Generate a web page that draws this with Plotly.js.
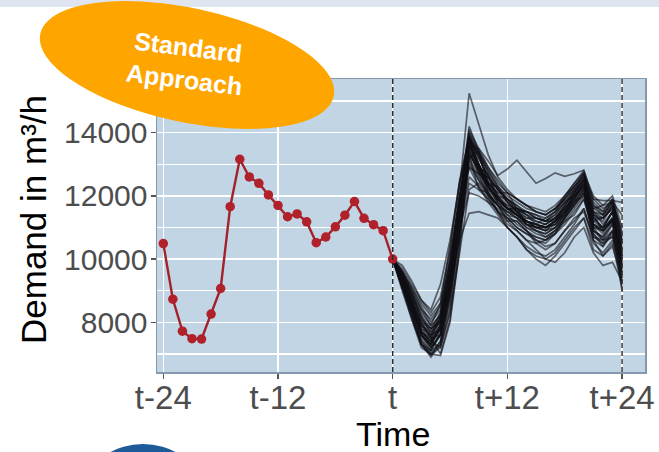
<!DOCTYPE html>
<html>
<head>
<meta charset="utf-8">
<script src="https://cdn.plot.ly/plotly-3.0.1.min.js"></script>
<style>html,body{margin:0;padding:0;background:#fff;}#chart{width:659px;height:452px;}</style>
</head>
<body>
<div id="chart"></div>
<script>
// ---- data ----
const pastHours = [-24,-23,-22,-21,-20,-19,-18,-17,-16,-15,-14,-13,-12,-11,-10,-9,-8,-7,-6,-5,-4,-3,-2,-1,0];
const pastDemand = [10490,8730,7720,7480,7470,8260,9070,11660,13160,12600,12400,12030,11700,11340,11430,11180,10520,10700,11020,11390,11820,11290,11090,10900,10000];
const futureHours = [0,1,2,3,4,5,6,7,8,9,10,11,12,13,14,15,16,17,18,19,20,21,22,23,24];
const tickVals = [-24,-12,0,12,24];
const tickText = ['t-24','t-12','t','t+12','t+24'];
const forecast01 = [10000,9400,8600,7700,7300,7800,9600,12200,15250,14300,13300,12600,12200,11900,11700,11500,11400,11600,11900,12300,12600,11500,11300,11600,10300];
const forecast02 = [10000,9500,8700,7900,7500,8100,9700,11600,13600,13500,13100,12650,12850,13130,12750,12400,12550,12730,12620,12700,12820,11900,11600,11800,10900];
const forecast03 = [10000,9600,9000,8400,7900,8600,10400,12400,13900,13000,12300,11900,11600,11400,11200,11000,10900,11200,11700,12200,12700,11300,11000,11500,10100];
const forecast04 = [10000,9100,8200,7300,7000,6950,8000,10300,13700,12800,12300,11900,11600,11500,11200,11100,11000,11200,11600,12000,12400,11100,10800,11300,9700];
const forecast05 = [10000,9500,8900,8200,7600,7800,9300,11900,14000,13400,12900,12500,12100,11900,11700,11500,11400,11600,12000,12400,12750,11700,11400,11800,10500];
const forecast06 = [10000,9100,8200,7300,6900,7300,8800,10900,13200,12600,12100,11700,11400,11300,11000,10900,10800,11000,11400,11800,12200,10900,10700,11200,9400];
const forecast07 = [10000,9700,9200,8700,8300,8800,10300,12500,13800,13200,12600,12200,11900,11600,11500,11300,11200,11300,11700,12100,12500,11700,11500,11900,10600];
const forecast08 = [10000,9200,8300,7400,7100,7300,8600,11000,13400,12700,12000,11700,11500,11400,11200,11000,11000,11100,11500,11900,12300,11000,10900,11300,9900];
const forecast09 = [10000,9400,8600,7800,7600,8200,9600,11000,12100,12000,11800,11600,11300,11000,10800,10700,10600,10800,11100,11500,11900,10800,10500,10900,9500];
const forecast10 = [10000,9300,8500,7700,7400,8000,9200,10600,11450,11500,11400,11300,11000,10700,10300,10100,10000,10200,10600,11000,11300,10300,10100,10500,9100];
const forecast11 = [10000,9000,8100,7300,7100,7700,9300,11400,13600,13000,12400,12000,11600,11400,11100,10900,10700,10900,11300,11700,12100,10600,10400,10900,9000];
const forecast12 = [10000,9500,8800,8000,7500,7600,9000,11800,14100,13500,12900,12400,12100,11900,11700,11600,11500,11700,12000,12400,12800,11800,11500,11900,10700];
const forecast13 = [10000,9500,8900,8300,7900,8200,9400,11300,13300,12900,12100,11500,11300,11200,10900,10600,10500,10800,11300,11700,12100,11000,11000,11500,10200];
const forecast14 = [10000,9500,8700,7900,7600,8100,9800,11900,13700,13000,12300,11900,11700,11600,11500,11400,11300,11500,11900,12200,12500,11900,11850,11850,11800];
const forecast15 = [10000,9200,8300,7400,7000,7400,8900,11000,13500,12900,12400,12100,11800,11500,11300,11200,11100,11300,11700,12100,12500,11300,11000,11500,9800];
const forecast16 = [10000,9600,9100,8500,8000,8400,9900,11900,13900,13200,12600,12200,11800,11500,11200,11000,10900,11100,11500,11900,12400,11400,11200,11700,10500];
const forecast17 = [10000,9300,8500,7600,7300,7800,9300,11400,12900,12300,11800,11400,11000,10700,10300,10000,9800,10100,10500,10900,11300,10500,10200,10600,9600];
const forecast18 = [10000,9300,8400,7600,7300,7900,9300,11200,12600,12300,11900,11500,11200,10900,10600,10300,10000,9900,10200,10700,11000,10200,9800,9900,9300];
const forecast19 = [10000,9600,9000,8400,8100,8500,9900,11900,13800,12900,12200,12000,11900,11500,11100,11000,11100,11300,11600,11900,12400,11400,10900,11200,10300];
const forecast20 = [10000,9100,8100,7200,7000,7200,8400,10700,13400,12800,12300,11900,11600,11400,11100,11000,10900,11000,11300,11800,12200,11100,10900,11200,9600];
const forecast21 = [10000,9800,9300,8700,8400,9200,10600,12400,13600,13000,12500,12000,11700,11400,11200,11100,11000,11200,11600,12000,12300,11500,11400,11800,10800];
const forecast22 = [10000,9300,8500,7600,7200,7600,9100,11300,13600,12900,12300,11800,11500,11300,11000,10800,10700,10900,11300,11700,12100,10800,10400,10800,9300];
const forecast23 = [10000,9400,8600,7700,7400,7900,9400,11600,13900,13300,12800,12300,12000,11800,11600,11500,11400,11600,11900,12300,12700,12000,11700,12000,11000];
const forecast24 = [10000,9500,8900,8200,7800,8300,9600,11200,13300,12200,12100,11700,11200,11200,10900,10500,10600,10900,11200,11400,11900,10900,10600,10700,9900];
const forecast25 = [10000,9200,8300,7300,6950,7400,8800,10800,13000,12500,12000,11700,11500,11300,11100,10900,10800,11000,11400,11800,12200,11200,11000,11300,10000];
const forecast26 = [10000,9600,9100,8600,8200,8600,10100,11900,13700,13300,12400,12100,12100,11600,11300,11300,11200,11200,11500,12100,12500,11200,11300,11600,10100];
const forecast27 = [10000,9300,8500,7600,7300,7800,9300,11500,13800,13000,12400,11900,11600,11400,11200,11100,11000,11100,11400,11900,12300,11000,10600,11100,9200];
const forecast28 = [10000,9500,8700,7800,7400,7900,9600,11900,14200,13400,12700,12200,11900,11700,11500,11300,11200,11400,11800,12200,12600,11600,11400,11800,10600];
const forecast29 = [10000,9300,8400,7500,7100,7600,9100,11000,12400,12200,11900,11500,11000,10700,10400,10200,10100,10300,10700,11100,11600,10600,10100,10400,9400];
const forecast30 = [10000,9400,8800,8100,7800,8000,9000,11100,13500,12700,12600,12000,11600,11600,11400,11100,11300,11500,11800,12000,12500,11500,11100,11500,10300];
const forecast31 = [10000,9300,8500,7700,7500,8200,9800,11800,13300,12800,12200,11800,11600,11400,11200,11100,11000,11200,11500,11800,12000,11600,11700,11800,11400];
const forecast32 = [10000,9100,8400,7900,7700,8000,9100,11300,13800,13400,12400,12300,11800,11500,11500,11400,11200,11500,12000,12300,12700,11300,11300,11700,10100];
const forecast33 = [10000,9400,8500,7600,7200,7600,9000,11100,13100,12500,12100,11700,11300,11000,10800,10600,10400,10500,10900,11200,11600,10700,10600,10900,10100];
const forecast34 = [10000,9400,8600,8000,7800,8100,9500,11400,13700,12900,12700,11900,11600,11600,11100,11000,11000,11200,11400,12000,12300,11100,11000,11200,9700];
const forecast35 = [10000,9200,8400,7700,7400,7200,8300,10200,12200,12400,12000,11500,11100,10900,10600,10500,10300,10500,10900,11300,11500,10700,10500,10700,10000];
const forecast36 = [10000,9400,8700,8000,7500,7000,8100,10500,13200,13400,12800,12300,11900,11600,11400,11200,11100,11300,11600,12000,12400,11100,10900,11300,9800];
const forecast37 = [10000,9600,8900,8100,7700,8300,10000,12000,12900,12700,12300,11800,11400,11100,10900,10700,10600,10800,11200,11600,12000,10900,10700,11100,10200];
const forecast38 = [10000,9300,8500,7600,7200,7600,9000,11200,14000,13300,12600,12200,11900,11700,11400,11300,11200,11400,11800,12100,12600,11400,11300,11700,10400];
const forecasts = [forecast01,forecast02,forecast03,forecast04,forecast05,forecast06,forecast07,forecast08,forecast09,forecast10,
  forecast11,forecast12,forecast13,forecast14,forecast15,forecast16,forecast17,forecast18,forecast19,forecast20,
  forecast21,forecast22,forecast23,forecast24,forecast25,forecast26,forecast27,forecast28,forecast29,forecast30,
  forecast31,forecast32,forecast33,forecast34,forecast35,forecast36,forecast37,forecast38];

// ---- layout geometry (pixels) ----
const W = 659, H = 452;
const L = 157, R = 645, T = 79, B = 372;
const px = x => (x - L) / (R - L);
const py = y => (B - y) / (B - T);

function ellipsePath(cx, cy, a, b, deg) {
  const th = deg * Math.PI / 180;
  let d = '';
  for (let i = 0; i <= 96; i++) {
    const t = i / 96 * 2 * Math.PI;
    const X = cx + a * Math.cos(t) * Math.cos(th) - b * Math.sin(t) * Math.sin(th);
    const Y = cy + a * Math.cos(t) * Math.sin(th) + b * Math.sin(t) * Math.cos(th);
    d += (i === 0 ? 'M' : 'L') + px(X).toFixed(5) + ',' + py(Y).toFixed(5);
  }
  return d + 'Z';
}

const traces = forecasts.map(f => ({
  type: 'scatter', mode: 'lines', x: futureHours, y: f,
  line: {color: 'rgba(15,15,20,0.6)', width: 1.7}, hoverinfo: 'skip'
}));
traces.push({
  type: 'scatter', mode: 'lines+markers', x: pastHours, y: pastDemand,
  line: {color: '#a3222a', width: 2.4},
  marker: {color: '#b0212b', size: 9.5}
});

const font = 'Liberation Sans, Arial, sans-serif';
const layout = {
  width: W, height: H,
  margin: {l: L, r: W - R, t: T, b: H - B, pad: 0},
  paper_bgcolor: '#ffffff',
  plot_bgcolor: '#c2d5e5',
  showlegend: false,
  xaxis: {
    range: [-24.66, 26.4], tickmode: 'array', tickvals: tickVals, ticktext: tickText,
    ticks: 'outside', ticklen: 5, tickwidth: 1.3, tickcolor: '#555', ticklabelstandoff: -9,
    tickfont: {family: font, size: 33, color: '#4d4d4d'},
    showgrid: true, gridcolor: '#ffffff', gridwidth: 1.5,
    zeroline: false, showline: true, mirror: true, linecolor: '#8598ad', linewidth: 1.5
  },
  yaxis: {
    range: [6427, 15700], tickmode: 'linear', tick0: 8000, dtick: 2000, tickformat: 'd',
    ticks: 'outside', ticklen: 5, tickwidth: 1.3, tickcolor: '#555', ticklabelstandoff: -3,
    tickfont: {family: font, size: 30, color: '#4d4d4d'},
    showgrid: true, gridcolor: '#ffffff', gridwidth: 1.5,
    minor: {dtick: 1000, tick0: 7000, showgrid: true, gridcolor: '#ffffff', gridwidth: 1.5},
    zeroline: false, showline: true, mirror: true, linecolor: '#8598ad', linewidth: 1.5
  },
  shapes: [
    {type: 'rect', xref: 'paper', yref: 'paper', x0: px(0), x1: px(W), y0: py(7), y1: py(0),
     fillcolor: '#dfe4f1', line: {width: 0}, layer: 'above'},
    {type: 'line', xref: 'x', yref: 'paper', x0: 0, x1: 0, y0: 0, y1: 1,
     line: {color: '#2a2a2a', width: 1.4, dash: '5px,3px'}, layer: 'above'},
    {type: 'line', xref: 'x', yref: 'paper', x0: 24, x1: 24, y0: 0, y1: 1,
     line: {color: '#2a2a2a', width: 1.4, dash: '5px,3px'}, layer: 'above'},
    {type: 'path', xref: 'paper', yref: 'paper', path: ellipsePath(187, 65, 150, 57, 12),
     fillcolor: '#ffa500', line: {width: 0}, layer: 'above'},
    {type: 'circle', xref: 'paper', yref: 'paper', x0: px(92), x1: px(194), y0: py(514), y1: py(444),
     fillcolor: '#1e5a97', line: {width: 0}, layer: 'above'}
  ],
  annotations: [
    {text: 'Time', xref: 'x', x: 0, yref: 'paper', y: py(434), xanchor: 'center', yanchor: 'middle',
     showarrow: false, font: {family: font, size: 34, color: '#000'}},
    {text: 'Demand in m³/h', xref: 'paper', x: px(33), yref: 'paper', y: py(220), textangle: -90,
     xanchor: 'center', yanchor: 'middle', showarrow: false, font: {family: font, size: 35, color: '#000'}},
    {text: '<b>Standard</b><br><b>Approach</b>', xref: 'paper', x: px(186), yref: 'paper', y: py(63),
     xanchor: 'center', yanchor: 'middle', textangle: 7, showarrow: false,
     font: {family: font, size: 25, color: '#ffffff'}}
  ]
};

Plotly.newPlot('chart', traces, layout, {staticPlot: true, displayModeBar: false});
</script>
</body>
</html>
